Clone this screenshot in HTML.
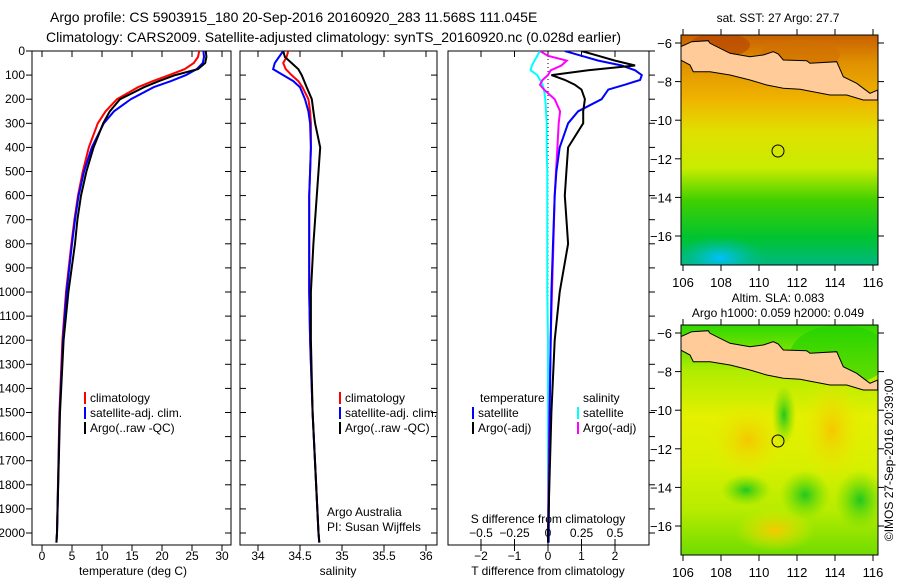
<!DOCTYPE html>
<html><head><meta charset="utf-8"><style>
html,body{margin:0;padding:0;background:#fff}
svg{display:block;font-family:"Liberation Sans",sans-serif}
</style></head><body>
<svg id="c" width="900" height="580" viewBox="0 0 900 580" xmlns="http://www.w3.org/2000/svg">
<defs>
<linearGradient id="sstg" x1="0" y1="0" x2="0" y2="1">
<stop offset="0" stop-color="#c86000"/><stop offset="0.12" stop-color="#e09000"/><stop offset="0.28" stop-color="#f0b400"/><stop offset="0.42" stop-color="#e0e000"/><stop offset="0.58" stop-color="#c8ec00"/><stop offset="0.72" stop-color="#40d000"/><stop offset="0.88" stop-color="#00c430"/><stop offset="1" stop-color="#00b880"/></linearGradient>
<radialGradient id="cyanb" cx="0.5" cy="0.5" r="0.5"><stop offset="0" stop-color="#00c0ff"/><stop offset="1" stop-color="#00c0a0" stop-opacity="0"/></radialGradient>
<linearGradient id="slag" x1="0" y1="0" x2="0" y2="1">
<stop offset="0" stop-color="#30d800"/><stop offset="0.2" stop-color="#b0ec00"/><stop offset="0.4" stop-color="#e4f000"/><stop offset="0.6" stop-color="#d8f000"/><stop offset="0.8" stop-color="#b8ec00"/><stop offset="1" stop-color="#70dc00"/></linearGradient>
<radialGradient id="orb"><stop offset="0" stop-color="#f4c800"/><stop offset="1" stop-color="#e8ec00" stop-opacity="0"/></radialGradient>
<radialGradient id="grb"><stop offset="0" stop-color="#20c820"/><stop offset="1" stop-color="#60d800" stop-opacity="0"/></radialGradient>
<clipPath id="cp1"><rect x="32" y="51" width="199" height="494"/></clipPath>
<clipPath id="cp2"><rect x="240" y="51" width="197" height="494"/></clipPath>
<clipPath id="cp3"><rect x="448" y="51" width="201" height="494"/></clipPath>
<clipPath id="cpm1"><rect x="681" y="35" width="197" height="230"/></clipPath>
<clipPath id="cpm2"><rect x="681" y="325" width="197" height="230"/></clipPath>
</defs>
<text x="50" y="22" font-size="14">Argo profile: CS 5903915_180 20-Sep-2016 20160920_283 11.568S 111.045E</text>
<text x="46" y="42" font-size="14">Climatology: CARS2009. Satellite-adjusted climatology: synTS_20160920.nc (0.028d earlier)</text>
<g id="g"></g>
</svg>
<script>
// ---- data ----
const depths = [0,25,50,75,100,125,150,200,250,300,400,500,600,700,800,1000,1200,1500,2000,2040];
const climT = [26.2,26.0,25.3,23.8,21.2,18.5,16.0,12.5,10.6,9.3,7.8,6.8,6.0,5.4,4.9,4.0,3.4,2.9,2.5,2.4];
const satT  = [26.9,27.0,26.8,25.8,24.0,21.5,18.6,14.8,12.0,10.3,8.3,7.0,6.1,5.5,5.0,4.1,3.5,2.95,2.5,2.4];
const argoT = [27.3,27.4,27.2,26.0,22.2,19.5,17.0,13.0,11.3,10.2,8.6,7.4,6.5,5.9,5.5,4.4,3.6,3.0,2.5,2.4];
const climS = [34.36,34.34,34.30,34.33,34.40,34.48,34.53,34.60,34.62,34.63,34.63,34.62,34.61,34.61,34.61,34.61,34.62,34.65,34.72,34.73];
const satS  = [34.30,34.25,34.20,34.18,34.30,34.42,34.50,34.56,34.60,34.62,34.63,34.62,34.61,34.61,34.61,34.61,34.62,34.65,34.72,34.73];
const argoS = [34.30,34.32,34.40,34.48,34.52,34.55,34.58,34.64,34.66,34.68,34.74,34.72,34.70,34.68,34.66,34.63,34.63,34.65,34.72,34.73];
const diffDepths = [0,20,40,60,80,100,120,140,160,200,250,300,400,500,600,800,1000,1200,1500,2000,2040];
const satTd  = [0.5,1.0,1.5,2.2,2.6,2.8,2.75,2.3,1.8,1.6,0.9,0.6,0.35,0.25,0.2,0.15,0.1,0.08,0.05,0.02,0.02];
const argoTd = [1.0,1.5,2.0,2.6,1.2,0.1,0.5,0.8,1.0,1.1,1.05,1.05,0.6,0.55,0.5,0.6,0.35,0.2,0.1,0.0,0.0];
const satSd  = [-0.06,-0.08,-0.1,-0.12,-0.13,-0.08,-0.06,-0.04,-0.03,-0.02,-0.015,-0.01,-0.01,-0.005,-0.005,-0.005,-0.005,0,0,0,0];
const argoSd = [-0.06,0.0,0.14,0.1,0.02,0.0,-0.04,-0.06,-0.03,0.05,0.09,0.08,0.07,0.06,0.05,0.04,0.03,0.02,0.01,0.0,0.0];
const depthTicks = [0,100,200,300,400,500,600,700,800,900,1000,1100,1200,1300,1400,1500,1600,1700,1800,1900,2000];
const tTicks = [0,5,10,15,20,25,30];
const sTicks = [34,34.5,35,35.5,36];
const tdTicks = [-2,-1,0,1,2];
const sdTicks = [-0.5,-0.25,0,0.25,0.5];
const latTicks = [-6,-8,-10,-12,-14,-16];
const lonTicks = [106,108,110,112,114,116];

const NS='http://www.w3.org/2000/svg';
const G=document.getElementById('g');
function el(t,a,p){const e=document.createElementNS(NS,t);for(const k in a)e.setAttribute(k,a[k]);(p||G).appendChild(e);return e;}
const yD=d=>51+d*0.241;
const xT=t=>42+t*6;
const xS=s=>258+(s-34)*84;
const xTd=t=>548+t*33.5;
const xSd=s=>548+s*134;

function panel(x,w,name){
  const r=el('rect',{x:x,y:51,width:w,height:494,fill:'none',stroke:'#000','stroke-width':1});
  
  
}
function line(xs,ds,fx,col,clip,name){
  let d='';xs.forEach((v,i)=>{d+=(i?'L':'M')+fx(v).toFixed(1)+','+yD(ds[i]).toFixed(1);});
  const p=el('path',{d:d,fill:'none',stroke:col,'stroke-width':2,'clip-path':'url(#'+clip+')'});
  
  
}
function txt(x,y,s,fs,anchor,name){
  const t=el('text',{x:x,y:y,'font-size':fs,'text-anchor':anchor||'start'});t.textContent=s;
  
  
  return t;
}
panel(32,199,'temperature-panel');panel(240,197,'salinity-panel');panel(448,201,'difference-panel');
depthTicks.forEach(d=>{
  const y=yD(d);
  el('line',{x1:26,x2:32,y1:y,y2:y,stroke:'#000'});
  el('line',{x1:225,x2:231,y1:y,y2:y,stroke:'#000'});
  el('line',{x1:240,x2:246,y1:y,y2:y,stroke:'#000'});
  el('line',{x1:431,x2:437,y1:y,y2:y,stroke:'#000'});
  el('line',{x1:649,x2:655,y1:y,y2:y,stroke:'#000'});
  txt(25,y+4,String(d),12,'end','depth-tick-label');
});
tTicks.forEach(t=>{const x=xT(t);el('line',{x1:x,x2:x,y1:545,y2:551,stroke:'#000'});el('line',{x1:x,x2:x,y1:51,y2:57,stroke:'#000'});txt(x,560,String(t),12,'middle','temp-tick-label');});
sTicks.forEach(s=>{const x=xS(s);el('line',{x1:x,x2:x,y1:545,y2:551,stroke:'#000'});el('line',{x1:x,x2:x,y1:51,y2:57,stroke:'#000'});txt(x,560,String(s),12,'middle','salinity-tick-label');});
tdTicks.forEach(t=>{const x=xTd(t);el('line',{x1:x,x2:x,y1:545,y2:551,stroke:'#000'});el('line',{x1:x,x2:x,y1:51,y2:57,stroke:'#000'});txt(x,560,t<0?'\u2212'+(-t):String(t),12,'middle','tdiff-tick-label');});
sdTicks.forEach(s=>{const x=xSd(s);el('line',{x1:x,x2:x,y1:539,y2:545,stroke:'#000'});txt(x,537,s<0?'\u2212'+(-s):String(s),12,'middle','sdiff-tick-label');});
txt(133,575,'temperature (deg C)',12,'middle','x-axis-title-temperature');
txt(338,575,'salinity',12,'middle','x-axis-title-salinity');
txt(548,575,'T difference from climatology',12,'middle','x-axis-title-tdiff');
txt(548,523,'S difference from climatology',12,'middle','sdiff-axis-title');
el('line',{x1:548,x2:548,y1:51,y2:545,stroke:'#000','stroke-dasharray':'1,3'});
line(climT,depths,xT,'#f00','cp1','climatology-temperature-line');
line(satT,depths,xT,'#00f','cp1','satellite-temperature-line');
line(argoT,depths,xT,'#000','cp1','argo-temperature-line');
line(climS,depths,xS,'#f00','cp2','climatology-salinity-line');
line(satS,depths,xS,'#00f','cp2','satellite-salinity-line');
line(argoS,depths,xS,'#000','cp2','argo-salinity-line');
line(satSd,diffDepths,xSd,'#0ff','cp3','satellite-salinity-diff-line');
line(argoSd,diffDepths,xSd,'#f0f','cp3','argo-salinity-diff-line');
line(satTd,diffDepths,xTd,'#00f','cp3','satellite-temperature-diff-line');
line(argoTd,diffDepths,xTd,'#000','cp3','argo-temperature-diff-line');
function leg(x,y,col,label){el('rect',{x:x,y:y-10,width:2,height:12,fill:col});txt(x+6,y,label,12,'start','legend-entry');}
leg(84,402,'#f00','climatology');leg(84,417,'#00f','satellite-adj. clim.');leg(84,432,'#000','Argo(..raw -QC)');
leg(339,402,'#f00','climatology');leg(339,417,'#00f','satellite-adj. clim.');leg(339,432,'#000','Argo(..raw -QC)');
txt(480,402,'temperature',12,'start','legend-heading-temperature');
txt(583,402,'salinity',12,'start','legend-heading-salinity');
leg(472,417,'#00f','satellite');leg(472,432,'#000','Argo(-adj)');
leg(577,417,'#0ff','satellite');leg(577,432,'#f0f','Argo(-adj)');
txt(327,516,'Argo Australia',12,'start','credit-argo-australia');
txt(327,531,'PI: Susan Wijffels',12,'start','credit-pi');

const landPts=[[92,140],[125,125],[175,122],[180,130],[240,160],[300,170],[340,165],[370,155],[385,162],[400,180],[470,182],[480,190],[560,185],[580,230],[620,250],[640,265],[660,280],[683,270],[683,300],[640,300],[590,285],[540,285],[450,268],[400,265],[350,255],[300,240],[240,225],[180,215],[130,215],[120,195],[92,180]];
function map(oy,top,bot,fill,name){
  const g=el('g',{'clip-path':'url(#'+(oy?'cpm2':'cpm1')+')'});
  
  
  el('rect',{x:681,y:top,width:197,height:230,fill:fill},g);
  if(!oy){
    el('ellipse',{cx:720,cy:258,rx:45,ry:22,fill:'url(#cyanb)'},g);
    el('ellipse',{cx:720,cy:45,rx:30,ry:12,fill:'#b84800',opacity:0.7},g);
    el('ellipse',{cx:800,cy:55,rx:40,ry:15,fill:'#d07000',opacity:0.6},g);
  } else {
    el('ellipse',{cx:748,cy:440,rx:40,ry:40,fill:'url(#orb)'},g);
    el('ellipse',{cx:832,cy:430,rx:32,ry:55,fill:'url(#orb)'},g);
    el('ellipse',{cx:784,cy:415,rx:12,ry:30,fill:'url(#grb)'},g);
    el('ellipse',{cx:805,cy:495,rx:25,ry:25,fill:'url(#grb)'},g);
    el('ellipse',{cx:746,cy:490,rx:25,ry:16,fill:'url(#grb)'},g);
    el('ellipse',{cx:860,cy:500,rx:25,ry:30,fill:'url(#grb)'},g);
    el('ellipse',{cx:775,cy:530,rx:40,ry:22,fill:'url(#orb)'},g);
    el('ellipse',{cx:840,cy:355,rx:50,ry:30,fill:'#20d000',opacity:0.6},g);
  }
  const pts=landPts.map(p=>(650+p[0]/3).toFixed(1)+','+(oy+p[1]/3).toFixed(1)).join(' ');
  const land=el('polygon',{points:pts,fill:'#ffcc99',stroke:'#000','stroke-width':1},g);
  
  
  const c=el('circle',{cx:778,cy:oy+151,r:6,fill:'none',stroke:'#000'});
  
  
  el('rect',{x:681,y:top,width:197,height:230,fill:'none',stroke:'#000'});
  latTicks.forEach(l=>{const y=oy+43+(-6-l)*19.3;el('line',{x1:675,x2:681,y1:y,y2:y,stroke:'#000'});el('line',{x1:878,x2:884,y1:y,y2:y,stroke:'#000'});txt(672,y+5,'\u2212'+(-l),13,'end','lat-tick-label');});
  lonTicks.forEach(l=>{const x=683+(l-106)*19;el('line',{x1:x,x2:x,y1:top+230,y2:top+236,stroke:'#000'});el('line',{x1:x,x2:x,y1:top-6,y2:top,stroke:'#000'});txt(x,top+252,String(l),13,'middle','lon-tick-label');});
}
map(0,35,265,'url(#sstg)','sst-map');
map(290,325,555,'url(#slag)','sla-map');
txt(778,22,'sat. SST: 27 Argo: 27.7',12,'middle','sst-map-title');
txt(778,302,'Altim. SLA: 0.083',12,'middle','sla-map-title-1');
txt(778,317,'Argo h1000: 0.059 h2000: 0.049',12,'middle','sla-map-title-2');
const r=txt(0,0,'\u00a9IMOS 27-Sep-2016 20:39:00',12,'middle','timestamp-credit');
r.setAttribute('transform','translate(893,460) rotate(-90)');
</script>
</body></html>
